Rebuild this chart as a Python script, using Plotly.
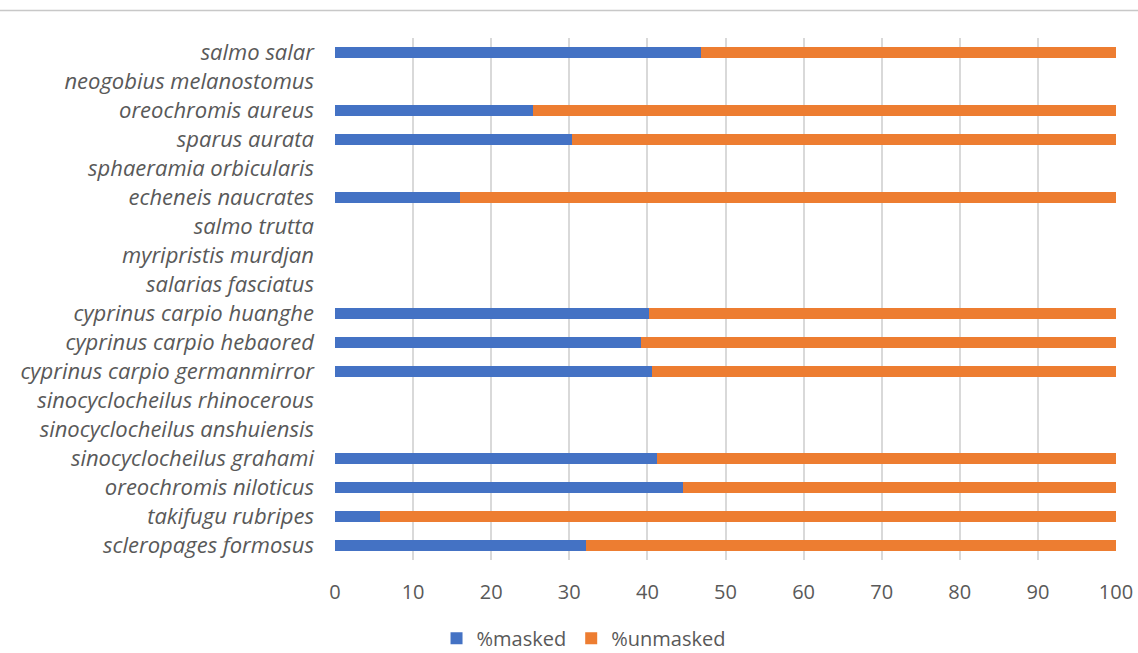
import plotly.graph_objects as go

species = [
    "salmo salar", "neogobius melanostomus", "oreochromis aureus", "sparus aurata",
    "sphaeramia orbicularis", "echeneis naucrates", "salmo trutta", "myripristis murdjan",
    "salarias fasciatus", "cyprinus carpio huanghe", "cyprinus carpio hebaored",
    "cyprinus carpio germanmirror", "sinocyclocheilus rhinocerous",
    "sinocyclocheilus anshuiensis", "sinocyclocheilus grahami", "oreochromis niloticus",
    "takifugu rubripes", "scleropages formosus",
]
masked = [46.9, None, 25.3, 30.4, None, 16.0, None, None, None,
          40.2, 39.2, 40.6, None, None, 41.2, 44.6, 5.7, 32.2]
unmasked = [None if m is None else round(100 - m, 1) for m in masked]

tick_vals = [0, 10, 20, 30, 40, 50, 60, 70, 80, 90, 100]

FONT = "'Open Sans', sans-serif"

fig = go.Figure()
fig.add_trace(go.Bar(y=species, x=masked, orientation="h", name="%masked",
                     marker=dict(color="#4472C4", line=dict(width=0)), width=0.38))
fig.add_trace(go.Bar(y=species, x=unmasked, orientation="h", name="%unmasked",
                     marker=dict(color="#ED7D31", line=dict(width=0)), width=0.38))

fig.update_layout(
    barmode="stack",
    width=1138, height=653,
    margin=dict(l=334.5, r=22, t=37.5, b=93, autoexpand=False),
    plot_bgcolor="white", paper_bgcolor="white",
    font=dict(family=FONT, color="#595959", size=19),
    xaxis=dict(range=[0, 100], tickvals=tick_vals, showgrid=True, gridcolor="#d9d9d9",
               gridwidth=1.5, zeroline=False, showline=False, ticks="",
               ticklabelstandoff=18,
               tickfont=dict(size=20, color="#595959"), fixedrange=True),
    yaxis=dict(categoryorder="array", categoryarray=species, autorange="reversed",
               showgrid=False, ticks="", ticklabelstandoff=20,
               tickfont=dict(size=22, color="#595959", style="italic"),
               showline=False, zeroline=False, fixedrange=True),
    legend=dict(orientation="h", x=0.130, xanchor="left", y=-0.150, yanchor="middle",
                font=dict(size=20, color="#595959"), itemwidth=30, traceorder="normal"),
    showlegend=True,
    shapes=[dict(type="line", xref="paper", yref="paper", x0=-0.43, x1=1.03,
                 y0=1.0526, y1=1.0526, line=dict(color="#c8c8c8", width=1.5))],
)

fig.write_html("out.html", config={"displayModeBar": False},
               post_script="document.body.style.margin='0';document.body.style.overflow='hidden';")
